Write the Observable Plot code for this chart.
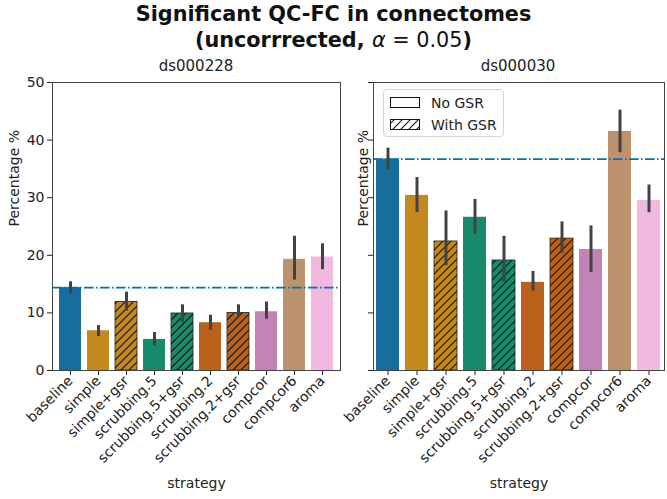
<!DOCTYPE html>
<html>
<head>
<meta charset="utf-8">
<script src="https://cdn.jsdelivr.net/npm/d3@7"></script>
<script src="https://cdn.jsdelivr.net/npm/@observablehq/plot@0.6"></script>
<style>
  body { margin: 0; background: white; }
  #root { position: relative; width: 667px; height: 499px; font-family: "DejaVu Sans", sans-serif; color: #222; overflow: hidden; }
  .abs { position: absolute; }
  #title { left: 0; width: 667px; top: 1px; text-align: center; font-weight: bold; font-size: 20.8px; line-height: 26px; color: #111; }
  .facet { top: 57px; font-size: 15px; text-align: center; width: 200px; }
  #legend { left: 383px; top: 89px; width: 121px; height: 48px; border: 1px solid #d5d5d5; border-radius: 4px; background: rgba(255,255,255,0.85); box-sizing: border-box; }
</style>
</head>
<body>
<div id="root">
  <svg width="0" height="0" style="position:absolute">
    <defs>
      <pattern id="hatch" patternUnits="userSpaceOnUse" width="8" height="8">
        <path d="M-2,2 L2,-2 M0,8 L8,0 M6,10 L10,6" stroke="#111" stroke-width="1.1" fill="none"/>
      </pattern>
    </defs>
  </svg>
  <div id="title" class="abs">Significant QC-FC in connectomes<br>(uncorrrected, <span style="font-weight:normal;font-style:italic">α</span><span style="font-weight:normal"> = 0.05</span>)</div>
  <div class="abs facet" style="left:96px">ds000228</div>
  <div class="abs facet" style="left:418px">ds000030</div>
  <div id="left" class="abs" style="left:0;top:75px"></div>
  <div id="right" class="abs" style="left:345px;top:75px"></div>
  <div id="legend" class="abs">
    <svg width="121" height="48" style="font-family:'DejaVu Sans';font-size:14px">
      <rect x="6.5" y="7.5" width="29" height="10" fill="white" stroke="#111" stroke-width="1"/>
      <text x="47" y="17.5" fill="#222">No GSR</text>
      <rect x="6.5" y="29.5" width="29" height="10" fill="url(#hatch)" stroke="#111" stroke-width="1"/>
      <text x="47" y="39.5" fill="#222">With GSR</text>
    </svg>
  </div>
</div>
<script>
const categories = ["baseline", "simple", "simple+gsr", "scrubbing.5", "scrubbing.5+gsr", "scrubbing.2", "scrubbing.2+gsr", "compcor", "compcor6", "aroma"];
const withGSR = [false, false, true, false, true, false, true, false, false, false];
const palette = ["#176d9c", "#c38820", "#c38820", "#168a6b", "#168a6b", "#ba611b", "#ba611b", "#c283b6", "#bd926e", "#f2b9e0"];
const yTicks = [0, 10, 20, 30, 40, 50];

const ds000228Mean = [14.4, 6.9, 11.9, 5.4, 9.9, 8.3, 10.0, 10.2, 19.3, 19.7];
const ds000228Low  = [13.3, 5.9, 10.3, 4.3, 8.4, 7.0, 9.2, 8.9, 15.7, 17.5];
const ds000228High = [15.4, 7.8, 13.6, 6.6, 11.4, 9.6, 11.4, 11.9, 23.3, 22.0];

const ds000030Mean = [36.7, 30.4, 22.4, 26.6, 19.1, 15.3, 22.9, 21.0, 41.5, 29.5];
const ds000030Low  = [34.8, 27.4, 18.2, 23.6, 15.4, 13.8, 20.3, 17.0, 37.8, 27.4];
const ds000030High = [38.6, 33.5, 27.7, 29.7, 23.3, 17.2, 25.8, 25.1, 45.2, 32.2];

function panel(mean, low, high, o) {
  const data = categories.map((c, i) => ({strategy: c, value: mean[i], lo: low[i], hi: high[i], gsr: withGSR[i]}));
  const baseline = mean[0];
  return Plot.plot({
    width: o.width, height: 424,
    marginLeft: o.marginLeft, marginRight: o.marginRight, marginTop: 7, marginBottom: 129,
    style: {fontFamily: "DejaVu Sans", fontSize: "14px", color: "#222", background: "white", overflow: "visible"},
    x: {domain: categories, paddingInner: 0.2, paddingOuter: 0.1, tickRotate: -45, tickSize: 5, tickPadding: 3, label: null},
    y: {domain: [0, 50], ticks: yTicks, tickSize: 5, tickPadding: 3, label: null, tickFormat: o.labels ? (d => String(d)) : (() => "")},
    color: {domain: categories, range: palette},
    marks: [
      Plot.barY(data, {x: "strategy", y: "value", fill: "strategy"}),
      Plot.barY(data.filter(d => d.gsr), {x: "strategy", y: "value", fill: "url(#hatch)", stroke: "#222", strokeWidth: 0.8}),
      Plot.ruleY([baseline], {stroke: "#0173b2", strokeWidth: 1.8, strokeDasharray: "9.6,2.4,1.6,2.4"}),
      Plot.ruleX(data, {x: "strategy", y1: "lo", y2: "hi", stroke: "#424242", strokeWidth: 3}),
      Plot.frame({stroke: "#444", strokeWidth: 1}),
      Plot.text(["Percentage %"], {text: d => d, frameAnchor: "left", rotate: -90, dx: -o.yLabelOffset, fontSize: 14, fill: "#222"}),
      Plot.text(["strategy"], {text: d => d, frameAnchor: "bottom", dy: 117, fontSize: 14, fill: "#222"})
    ]
  });
}

document.getElementById("left").appendChild(
  panel(ds000228Mean, ds000228Low, ds000228High, {width: 345, marginLeft: 52, marginRight: 5, labels: true, yLabelOffset: 38}));
document.getElementById("right").appendChild(
  panel(ds000030Mean, ds000030Low, ds000030High, {width: 322, marginLeft: 28, marginRight: 3, labels: false, yLabelOffset: 10}));
</script>
</body>
</html>
